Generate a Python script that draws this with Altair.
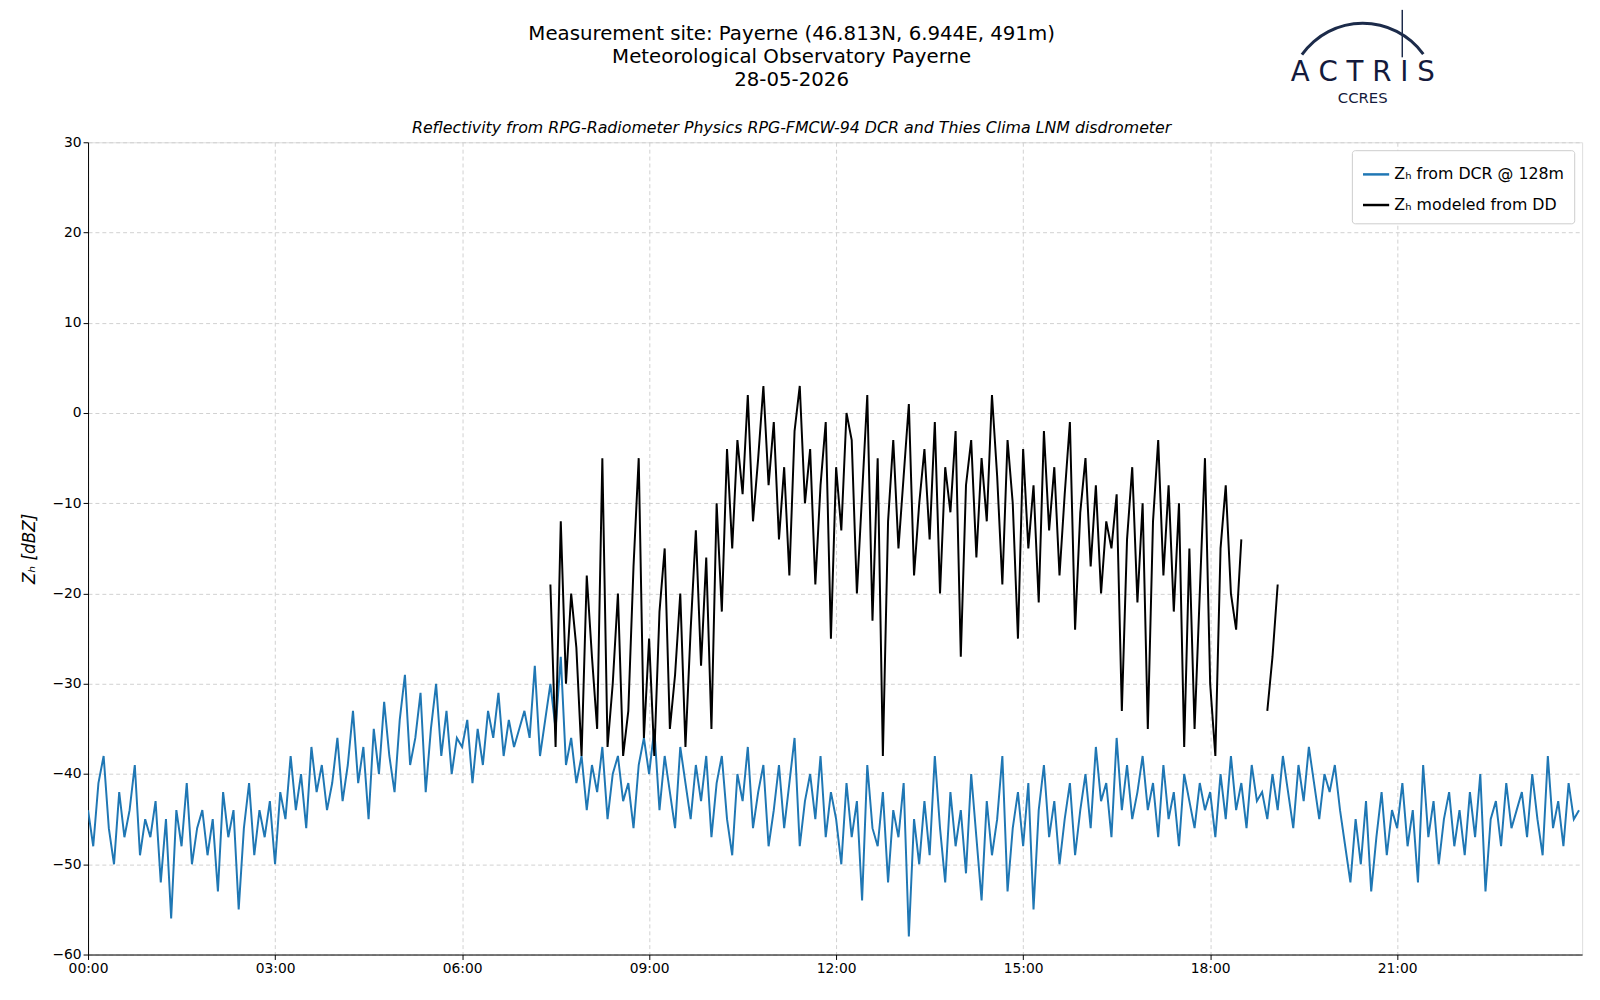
import altair as alt
import pandas as pd

# Z_H from cloud radar at 128 m, one value every 5 minutes from 00:00
blue_zh = [
    -44, -48, -41, -38, -46, -50, -42, -47, -44, -39, -49, -45,
    -47, -43, -52, -45, -56, -44, -48, -41, -50, -46, -44, -49,
    -45, -53, -42, -47, -44, -55, -46, -41, -49, -44, -47, -43,
    -50, -42, -45, -38, -44, -40, -46, -37, -42, -39, -44, -41,
    -36, -43, -39, -33, -41, -37, -45, -35, -40, -32, -38, -42,
    -34, -29, -39, -36, -31, -42, -35, -30, -38, -33, -40, -36,
    -37, -34, -41, -35, -39, -33, -36, -31, -38, -34, -37, -35,
    -33, -36, -28, -38, -34, -30, -35, -27, -39, -36, -41, -38,
    -44, -39, -42, -37, -45, -40, -38, -43, -41, -46, -39, -36,
    -40, -35, -44, -38, -42, -46, -37, -41, -45, -39, -43, -38,
    -47, -41, -38, -45, -49, -40, -43, -37, -46, -42, -39, -48,
    -44, -39, -46, -41, -36, -48, -43, -40, -45, -38, -47, -42,
    -45, -50, -41, -47, -43, -54, -39, -46, -48, -42, -52, -44,
    -47, -41, -58, -45, -50, -43, -49, -38, -46, -52, -42, -48,
    -44, -51, -40, -47, -54, -43, -49, -45, -38, -53, -46, -42,
    -48, -41, -55, -44, -39, -47, -43, -50, -45, -41, -49, -44,
    -40, -46, -37, -43, -41, -47, -36, -44, -39, -45, -42, -38,
    -44, -41, -47, -39, -45, -42, -48, -40, -43, -46, -41, -44,
    -42, -47, -40, -45, -38, -44, -41, -46, -39, -43, -42, -45,
    -40, -44, -38, -42, -46, -39, -43, -37, -41, -45, -40, -42,
    -39, -44, -48, -52, -45, -50, -43, -53, -47, -42, -49, -44,
    -46, -41, -48, -44, -52, -39, -47, -43, -50, -45, -42, -48,
    -44, -49, -42, -47, -40, -53, -45, -43, -48, -41, -46, -44,
    -42, -47, -40, -45, -49, -38, -46, -43, -48, -41, -45, -44,
]

# Z_H modeled from disdrometer, every 5 minutes from 07:25 to 18:30
black_start = 445
black_zh = [
    -19, -37, -12, -30, -20, -26, -38, -18, -27, -35, -5, -37,
    -30, -20, -38, -33, -17, -5, -36, -25, -38, -22, -15, -35,
    -29, -20, -37, -24, -13, -28, -16, -35, -10, -22, -4, -15,
    -3, -9, 2, -12, -5, 3, -8, -1, -14, -6, -18, -2,
    3, -10, -4, -19, -8, -1, -25, -6, -13, 0, -3, -20,
    -9, 2, -23, -5, -38, -12, -3, -15, -7, 1, -18, -10,
    -4, -14, -1, -20, -6, -11, -2, -27, -8, -3, -16, -5,
    -12, 2, -7, -19, -3, -10, -25, -4, -15, -8, -21, -2,
    -13, -6, -18, -9, -1, -24, -11, -5, -17, -8, -20, -12,
    -15, -9, -33, -14, -6, -21, -10, -35, -12, -3, -18, -8,
    -22, -10, -37, -15, -35, -20, -5, -30, -38, -15, -8, -20,
    -24, -14,
]
# short second segment around 19:00
late_minutes = [1135, 1140, 1145]
late_zh = [-33, -27, -19]

title_lines = ["Measurement site: Payerne (46.813N, 6.944E, 491m)",
               "Meteorological Observatory Payerne", "28-05-2026"]
subtitle = "Reflectivity from RPG-Radiometer Physics RPG-FMCW-94 DCR and Thies Clima LNM disdrometer"

series_dcr = "Zₕ from DCR @ 128m"
series_dd = "Zₕ modeled from DD"

rows = [{"t": i * 5, "z": v, "s": series_dcr} for i, v in enumerate(blue_zh)]
rows += [{"t": black_start + i * 5, "z": v, "s": series_dd} for i, v in enumerate(black_zh)]
rows.append({"t": 1125, "z": None, "s": series_dd})
rows += [{"t": m, "z": v, "s": series_dd} for m, v in zip(late_minutes, late_zh)]
df = pd.DataFrame(rows)

lines = (
    alt.Chart(df)
    .mark_line(strokeWidth=2, clip=True)
    .encode(
        x=alt.X(
            "t:Q",
            scale=alt.Scale(domain=[0, 1438], nice=False),
            axis=alt.Axis(
                values=list(range(0, 1440, 180)),
                labelExpr="(floor(datum.value/60) < 10 ? '0' : '') + floor(datum.value/60) + ':00'",
                title=None, gridDash=[4, 3], gridColor="#d0d0d0",
                labelFontSize=14, tickColor="black", domainColor="black",
                labelColor="black", tickSize=5, labelFlush=False,
            ),
        ),
        y=alt.Y(
            "z:Q",
            scale=alt.Scale(domain=[-60, 30], nice=False),
            axis=alt.Axis(
                values=list(range(-60, 31, 10)),
                labelExpr="datum.value < 0 ? '−' + abs(datum.value) : datum.value",
                title="Zₕ [dBZ]", titleFontSize=17, titleFontStyle="italic",
                titleFontWeight="normal", titleColor="black", titlePadding=14,
                gridDash=[4, 3], gridColor="#d0d0d0", labelFontSize=14,
                tickColor="black", domainColor="black", labelColor="black", tickSize=5,
            ),
        ),
        color=alt.Color(
            "s:N",
            scale=alt.Scale(domain=[series_dcr, series_dd], range=["#1f77b4", "black"]),
            legend=alt.Legend(
                title=None, orient="top-right", symbolType="stroke",
                symbolStrokeWidth=2.5, symbolSize=700, labelFontSize=16,
                labelLimit=400, fillColor="white", strokeColor="#cccccc",
                padding=10, cornerRadius=3, offset=8, rowPadding=8,
            ),
        ),
        detail="s:N",
    )
)

one = pd.DataFrame({"a": [1]})
logo_arc = alt.Chart(one).mark_arc(
    color="#1c2b4a", innerRadius=74, outerRadius=77, theta=5.33, theta2=7.23
).encode(x=alt.value(1290), y=alt.value(-45))
logo_mast = alt.Chart(one).mark_rule(color="#1c2b4a", strokeWidth=1.5).encode(
    x=alt.value(1330), y=alt.value(-134), y2=alt.value(-86)
)
logo_word = alt.Chart(pd.DataFrame({"a": ["A C T R I S"]})).mark_text(
    fontSize=28, color="#141a3c"
).encode(x=alt.value(1290), y=alt.value(-70), text="a:N")
logo_sub = alt.Chart(pd.DataFrame({"a": ["CCRES"]})).mark_text(
    fontSize=15, color="#141a3c"
).encode(x=alt.value(1290), y=alt.value(-45), text="a:N")

title_df = pd.DataFrame({"txt": title_lines, "row": [0, 1, 2]})
title_marks = alt.Chart(title_df).mark_text(fontSize=20, color="black").encode(
    x=alt.value(712),
    y=alt.Y("row:Q", scale=alt.Scale(domain=[0, 2], range=[-109, -63]), axis=None),
    text="txt:N",
)
sub_mark = alt.Chart(pd.DataFrame({"txt": [subtitle]})).mark_text(
    fontSize=16, fontStyle="italic", color="black"
).encode(x=alt.value(712), y=alt.value(-14), text="txt:N")

chart = (
    alt.layer(lines, logo_arc, logo_mast, logo_word, logo_sub, title_marks, sub_mark)
    .resolve_scale(y="independent")
    .properties(
        width=1512,
        height=822,
        autosize=alt.AutoSizeParams(type="none"),
        padding={"left": 81, "top": 130, "right": 10, "bottom": 30},
    )
    .configure_view(stroke="black")
    .configure(font="DejaVu Sans")
)

chart.save("out.html", embed_options={"renderer": "svg", "actions": False})
